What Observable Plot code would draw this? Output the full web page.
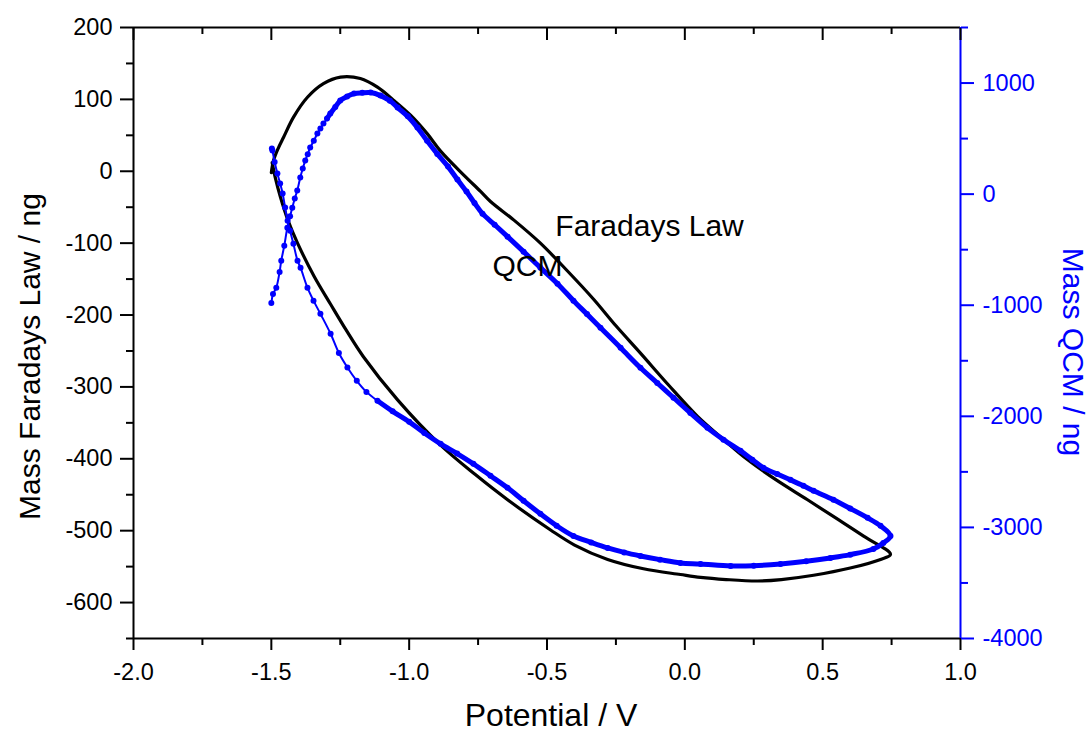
<!DOCTYPE html>
<html><head><meta charset="utf-8">
<script src="https://cdn.jsdelivr.net/npm/d3@7"></script>
<script src="https://cdn.jsdelivr.net/npm/@observablehq/plot@0.6"></script>
<style>html,body{margin:0;padding:0;background:#fff;} #chart svg{display:block;}</style>
</head><body><div id="chart"></div>
<script>
// Faradays Law curve (left axis, ng)
const faradayV = [-1.500,-1.492,-1.475,-1.456,-1.420,-1.369,-1.311,-1.249,-1.177,-1.115,-1.057,-0.995,-0.934,-0.886,-0.800,-0.741,-0.705,-0.620,-0.524,-0.430,-0.331,-0.250,-0.161,-0.060,0.046,0.140,0.227,0.330,0.445,0.550,0.650,0.746,0.710,0.600,0.467,0.350,0.264,0.150,0.057,-0.016,-0.150,-0.280,-0.400,-0.487,-0.643,-0.760,-0.886,-1.042,-1.166,-1.230,-1.285,-1.345,-1.405,-1.440,-1.467,-1.485,-1.497];
const faradayMass = [-2,15,32,47,75,103,122,131,129,117,99,78,52,28,-6,-28,-42,-68,-100,-137,-178,-215,-253,-297,-341,-373,-401,-429,-457,-483,-508,-533,-540,-552,-562,-568,-570,-568,-565,-561,-553,-540,-520,-499,-457,-422,-381,-318,-258,-220,-185,-146,-100,-68,-36,-10,12];

// QCM curve (right axis, ng)
const qcmV = [-1.500,-1.494,-1.482,-1.470,-1.464,-1.453,-1.442,-1.432,-1.424,-1.415,-1.406,-1.395,-1.386,-1.377,-1.368,-1.359,-1.346,-1.333,-1.322,-1.311,-1.298,-1.286,-1.268,-1.250,-1.225,-1.200,-1.170,-1.140,-1.104,-1.070,-1.042,-1.005,-0.970,-0.935,-0.898,-0.859,-0.825,-0.792,-0.763,-0.734,-0.690,-0.643,-0.585,-0.524,-0.462,-0.404,-0.355,-0.306,-0.233,-0.161,-0.100,-0.041,0.020,0.082,0.140,0.202,0.245,0.285,0.335,0.383,0.430,0.467,0.539,0.600,0.663,0.710,0.746,0.720,0.684,0.600,0.528,0.440,0.347,0.250,0.166,0.057,-0.016,-0.090,-0.161,-0.220,-0.280,-0.340,-0.404,-0.465,-0.524,-0.585,-0.643,-0.705,-0.767,-0.826,-0.886,-0.945,-1.000,-1.060,-1.115,-1.155,-1.190,-1.224,-1.255,-1.285,-1.322,-1.347,-1.369,-1.394,-1.405,-1.420,-1.432,-1.441,-1.450,-1.459,-1.468,-1.478,-1.488,-1.496,-1.498];
const qcmMass = [-980,-900,-842,-700,-599,-464,-302,-200,-122,-40,32,149,230,302,360,419,480,545,590,635,680,725,785,842,880,905,912,914,887,840,779,700,599,480,362,248,131,23,-80,-176,-275,-383,-518,-662,-806,-959,-1080,-1203,-1383,-1563,-1700,-1833,-1970,-2104,-2210,-2311,-2390,-2464,-2520,-2572,-2625,-2671,-2752,-2830,-2914,-2986,-3077,-3140,-3194,-3245,-3275,-3305,-3329,-3345,-3347,-3329,-3320,-3290,-3257,-3225,-3185,-3135,-3077,-2985,-2878,-2760,-2644,-2535,-2428,-2335,-2248,-2150,-2050,-1955,-1860,-1780,-1680,-1560,-1430,-1257,-1077,-959,-842,-662,-599,-446,-330,-239,-120,5,95,185,290,392,410];

// Axes
const xDomain = [-2, 1];
const leftDomain = [-650, 200];
const rightDomain = [-4000, 1500];
const xMajor = [-2, -1.5, -1, -0.5, 0, 0.5, 1];
const xMinor = [-1.75, -1.25, -0.75, -0.25, 0.25, 0.75];
const leftMajor = [-600, -500, -400, -300, -200, -100, 0, 100, 200];
const leftMinor = [-650, -550, -450, -350, -250, -150, -50, 50, 150];
const rightMajor = [-4000, -3000, -2000, -1000, 0, 1000];
const rightMinor = [-3500, -2500, -1500, -500, 500, 1500];

// Annotations
const noteText = ["Faradays Law", "QCM"];
const noteV = [-0.128, -0.571];
const noteMass = [-76, -133];

const xTitle = "Potential / V";
const leftTitle = "Mass Faradays Law / ng";
const rightTitle = "Mass QCM / ng";

const toLeft = q => leftDomain[0] + (q - rightDomain[0]) * (leftDomain[1] - leftDomain[0]) / (rightDomain[1] - rightDomain[0]);
const toRight = m => rightDomain[0] + (m - leftDomain[0]) * (rightDomain[1] - rightDomain[0]) / (leftDomain[1] - leftDomain[0]);

const faraday = faradayV.map((v, i) => ({V: v, m: faradayMass[i]}));
const qcm = qcmV.map((v, i) => ({V: v, q: qcmMass[i]}));
const notes = noteText.map((t, i) => ({t, V: noteV[i], m: noteMass[i]}));
// densely sampled stretch of the QCM record (markers merge into a thick trace)
const denseStart = qcmV.indexOf(-1.298);
const denseEnd = qcmV.lastIndexOf(-1.115);

const BLUE = "#0000ff";

const chart = Plot.plot({
  width: 1089, height: 733,
  marginLeft: 133, marginRight: 129, marginTop: 27, marginBottom: 95,
  style: {fontFamily: "'Liberation Sans', Arial, sans-serif", fontSize: "23.5px", background: "white", color: "black"},
  x: {domain: xDomain},
  y: {domain: leftDomain},
  marks: [
    // frame lines
    Plot.ruleX([xDomain[0]], {stroke: "black", strokeWidth: 2}),
    Plot.ruleY([leftDomain[0]], {stroke: "black", strokeWidth: 2}),
    Plot.ruleY([leftDomain[1]], {stroke: "black", strokeWidth: 2}),
    Plot.ruleX([xDomain[1]], {stroke: BLUE, strokeWidth: 2}),
    // bottom axis
    Plot.axisX(xMajor, {anchor: "bottom", tickSize: 12, tickPadding: 13, strokeWidth: 2, label: null, tickFormat: d => d.toFixed(1)}),
    Plot.axisX(xMinor, {anchor: "bottom", tickSize: 7, strokeWidth: 2, label: null, tickFormat: () => ""}),
    // top inward ticks
    Plot.axisX(xMajor, {anchor: "top", tickSize: 12, dy: 12, strokeWidth: 2, label: null, tickFormat: () => ""}),
    Plot.axisX(xMinor, {anchor: "top", tickSize: 6, dy: 6, strokeWidth: 2, label: null, tickFormat: () => ""}),
    // left axis
    Plot.axisY(leftMajor, {anchor: "left", tickSize: 13, tickPadding: 8, strokeWidth: 2, label: null, tickFormat: d => String(d)}),
    Plot.axisY(leftMinor, {anchor: "left", tickSize: 7, strokeWidth: 2, label: null, tickFormat: () => ""}),
    // right axis (QCM)
    Plot.axisY(rightMajor.map(toLeft), {anchor: "right", tickSize: 13, tickPadding: 9, strokeWidth: 2, color: BLUE, label: null, tickFormat: d => String(Math.round(toRight(d)))}),
    Plot.axisY(rightMinor.map(toLeft), {anchor: "right", tickSize: 7, strokeWidth: 2, color: BLUE, label: null, tickFormat: () => ""}),
    // data
    Plot.line(faraday, {x: "V", y: "m", stroke: "black", strokeWidth: 3.2, curve: "catmull-rom"}),
    Plot.line(qcm, {x: "V", y: d => toLeft(d.q), stroke: BLUE, strokeWidth: 2, curve: "catmull-rom"}),
    Plot.line(qcm, {filter: (d, i) => i >= denseStart && i <= denseEnd, x: "V", y: d => toLeft(d.q), stroke: BLUE, strokeWidth: 5, curve: "catmull-rom"}),
    Plot.dot(qcm, {x: "V", y: d => toLeft(d.q), fill: BLUE, r: 3}),
    // annotations
    Plot.text(notes, {x: "V", y: "m", text: "t", fontSize: 30, fill: "black"}),
    // axis titles
    Plot.text([xTitle], {frameAnchor: "bottom", text: d => d, textAnchor: "middle", lineAnchor: "middle", dx: 4, dy: 77, fontSize: 32, fill: "black"}),
    Plot.text([leftTitle], {frameAnchor: "left", text: d => d, textAnchor: "middle", lineAnchor: "middle", rotate: -90, dx: -103, dy: 23.5, fontSize: 30, fill: "black"}),
    Plot.text([rightTitle], {frameAnchor: "right", text: d => d, textAnchor: "middle", lineAnchor: "middle", rotate: 90, dx: 112, dy: 19, fontSize: 30, fill: BLUE})
  ]
});
document.getElementById("chart").appendChild(chart);
</script>
</body></html>
